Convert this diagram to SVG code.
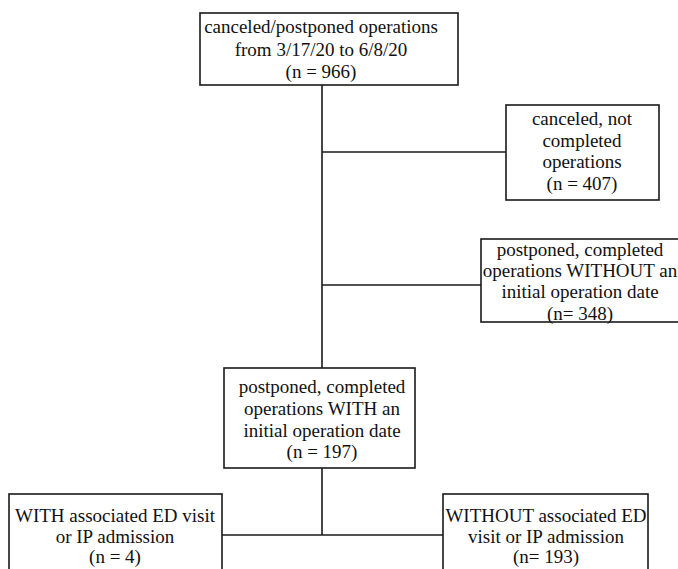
<svg xmlns="http://www.w3.org/2000/svg" width="678" height="569" viewBox="0 0 678 569">
<style>
.box{fill:#fff;stroke:#1a1a1a;stroke-width:1.6}
.ln{stroke:#1a1a1a;stroke-width:1.6;fill:none}
text{font-family:"Liberation Serif","Times New Roman",serif;font-size:19px;fill:#111;text-anchor:middle}
</style>
<rect width="678" height="569" fill="#fff"/>
<g id="connectors">
<line class="ln" x1="322" y1="85" x2="322" y2="368"/>
<line class="ln" x1="322" y1="152" x2="506" y2="152"/>
<line class="ln" x1="322" y1="285" x2="481" y2="285"/>
<line class="ln" x1="322" y1="468" x2="322" y2="535"/>
<line class="ln" x1="222" y1="535" x2="443" y2="535"/>
</g>
<g id="n1">
<rect class="box" x="200" y="13" width="258" height="72"/>
<text x="321" y="33">canceled/postponed operations</text>
<text x="321" y="56">from 3/17/20  to 6/8/20</text>
<text x="321" y="78">(n = 966)</text>
</g>
<g id="n2">
<rect class="box" x="506" y="105" width="153" height="95"/>
<text x="582" y="125">canceled, not</text>
<text x="582" y="147">completed</text>
<text x="582" y="168">operations</text>
<text x="582" y="190">(n = 407)</text>
</g>
<g id="n3">
<rect class="box" x="481" y="239" width="200" height="83"/>
<text x="580" y="256">postponed, completed</text>
<text x="580" y="277">operations WITHOUT  an</text>
<text x="580" y="298">initial  operation date</text>
<text x="580" y="320">(n= 348)</text>
</g>
<g id="n4">
<rect class="box" x="224" y="368" width="191" height="100"/>
<text x="322" y="393">postponed, completed</text>
<text x="322" y="415">operations WITH an</text>
<text x="322" y="437">initial  operation date</text>
<text x="322" y="458">(n = 197)</text>
</g>
<g id="n5">
<rect class="box" x="9" y="494" width="213" height="80"/>
<text x="115" y="522">WITH associated ED visit</text>
<text x="115" y="543">or IP admission</text>
<text x="115" y="563">(n = 4)</text>
</g>
<g id="n6">
<rect class="box" x="443" y="494" width="205" height="80"/>
<text x="546" y="522">WITHOUT  associated ED</text>
<text x="546" y="543">visit  or IP admission</text>
<text x="546" y="563">(n= 193)</text>
</g>
</svg>
